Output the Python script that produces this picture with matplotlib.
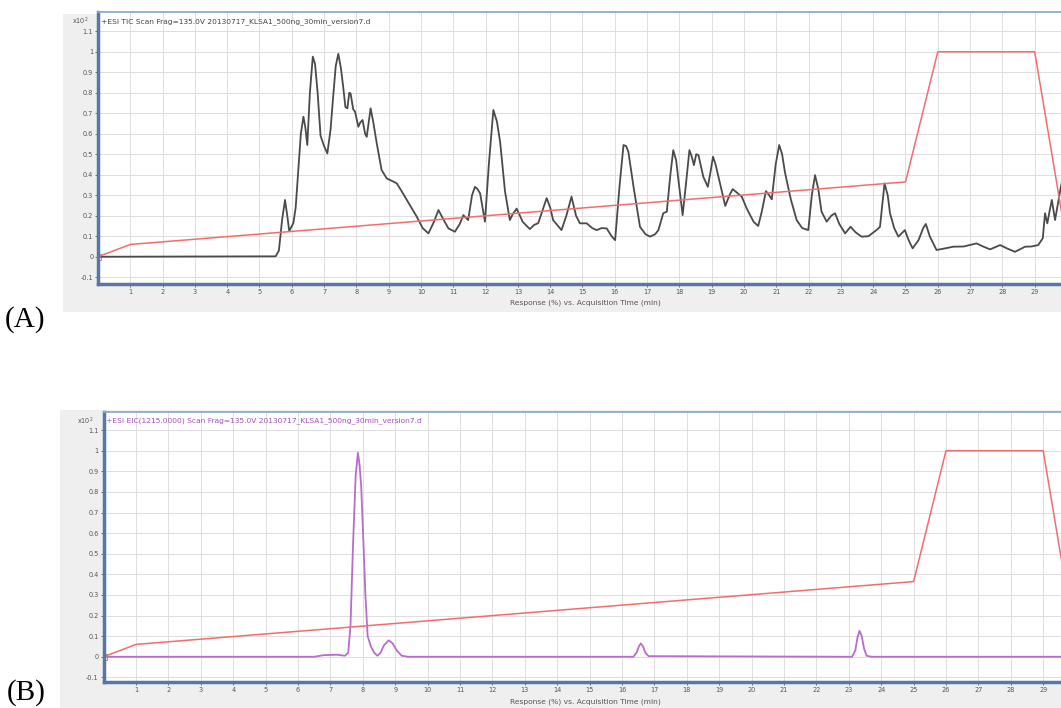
import matplotlib
matplotlib.use("Agg")
import matplotlib.pyplot as plt
from matplotlib.patches import Rectangle

# gradient (%B) trace, same in both panels
grad_t = [0, 1, 25, 26, 29, 30]
grad_v = [0, 0.06, 0.365, 1.0, 1.0, 0.06]

# TIC trace (A)
tic_t = [0, 5.5, 5.6, 5.7, 5.79, 5.86, 5.92, 6.0, 6.05, 6.12, 6.2, 6.28, 6.36, 6.42, 6.48,
         6.56, 6.65, 6.72, 6.8, 6.89, 7.0, 7.1, 7.2, 7.28, 7.36, 7.44, 7.52, 7.59, 7.66,
         7.72, 7.78, 7.82, 7.9, 7.96, 8.06, 8.12, 8.19, 8.27, 8.32, 8.44, 8.53, 8.63, 8.78,
         8.94, 9.1, 9.25, 9.4, 9.56, 9.7, 9.87, 10.05, 10.23, 10.4, 10.54, 10.7, 10.85,
         11.05, 11.2, 11.31, 11.46, 11.58, 11.67, 11.75, 11.83, 11.98, 12.1, 12.24, 12.35,
         12.45, 12.6, 12.75, 12.85, 12.96, 13.15, 13.37, 13.5, 13.63, 13.75, 13.89, 14.0,
         14.09, 14.35, 14.5, 14.66, 14.8, 14.92, 15.13, 15.3, 15.44, 15.6, 15.75, 15.9,
         16.01, 16.15, 16.27, 16.35, 16.42, 16.58, 16.78, 16.95, 17.09, 17.25, 17.35, 17.5,
         17.61, 17.72, 17.81, 17.9, 17.97, 18.1, 18.2, 18.31, 18.38, 18.45, 18.52, 18.59,
         18.74, 18.88, 18.97, 19.04, 19.12, 19.21, 19.42, 19.55, 19.65, 19.8, 19.93, 20.1,
         20.3, 20.44, 20.55, 20.68, 20.78, 20.86, 20.98, 21.09, 21.18, 21.27, 21.45, 21.63,
         21.8, 21.99, 22.1, 22.2, 22.3, 22.4, 22.56, 22.7, 22.82, 22.95, 23.13, 23.3, 23.45,
         23.64, 23.85, 24.1, 24.21, 24.35, 24.45, 24.52, 24.65, 24.78, 24.98, 25.1, 25.22,
         25.4, 25.55, 25.63, 25.75, 25.96, 26.2, 26.48, 26.8, 27.2, 27.4, 27.62, 27.93,
         28.15, 28.39, 28.7, 28.9, 29.11, 29.25, 29.32, 29.39, 29.47, 29.53, 29.63, 29.72,
         29.81, 29.9]
tic_v = [0, 0.002, 0.03, 0.18, 0.277, 0.2, 0.125, 0.15, 0.165, 0.24, 0.42, 0.6, 0.683, 0.63, 0.545,
         0.8, 0.976, 0.94, 0.8, 0.59, 0.54, 0.504, 0.62, 0.78, 0.93, 0.99, 0.92, 0.83, 0.73,
         0.724, 0.8, 0.797, 0.72, 0.707, 0.634, 0.655, 0.667, 0.6, 0.585, 0.724, 0.65, 0.553, 0.423,
         0.382, 0.37, 0.358, 0.32, 0.277, 0.24, 0.195, 0.14, 0.114, 0.17, 0.228, 0.18, 0.138,
         0.122, 0.16, 0.203, 0.179, 0.3, 0.341, 0.33, 0.309, 0.171, 0.45, 0.716, 0.66,
         0.56, 0.32, 0.179, 0.21, 0.235, 0.17, 0.135, 0.155, 0.164, 0.22, 0.286, 0.24,
         0.179, 0.13, 0.2, 0.293, 0.2, 0.163, 0.163, 0.14, 0.13, 0.14, 0.138, 0.1,
         0.081, 0.35, 0.545, 0.54, 0.512, 0.341, 0.146, 0.11, 0.098, 0.11, 0.13, 0.212,
         0.22, 0.4, 0.52, 0.47, 0.374, 0.203, 0.35, 0.52, 0.49, 0.447, 0.5, 0.496,
         0.39, 0.341, 0.42, 0.488, 0.45, 0.39, 0.248, 0.3, 0.33, 0.31, 0.293, 0.23,
         0.17, 0.15, 0.22, 0.32, 0.3, 0.28, 0.45, 0.545, 0.5, 0.41, 0.28, 0.179,
         0.14, 0.13, 0.3, 0.398, 0.33, 0.22, 0.171, 0.2, 0.212, 0.16, 0.114, 0.146, 0.12,
         0.098, 0.1, 0.13, 0.146, 0.358, 0.3, 0.212, 0.14, 0.098, 0.13, 0.08, 0.041,
         0.08, 0.14, 0.16, 0.1, 0.033, 0.04, 0.049, 0.05, 0.065, 0.05, 0.036, 0.057,
         0.04, 0.024, 0.049, 0.05, 0.057, 0.09, 0.212, 0.163, 0.23, 0.277, 0.179, 0.26,
         0.341, 0.4]

# EIC trace (B)
eic_t = [0, 6.5, 6.8, 7.2, 7.45, 7.55, 7.62, 7.7, 7.78, 7.85, 7.9, 7.95, 8.02, 8.08, 8.15,
         8.25, 8.35, 8.45, 8.55, 8.65, 8.8, 8.92, 9.05, 9.2, 9.4, 16.35, 16.45, 16.52, 16.58,
         16.65, 16.72, 16.82, 23.1, 23.2, 23.27, 23.33, 23.4, 23.47, 23.55, 23.7, 31]
eic_v = [0, 0, 0.008, 0.01, 0.005, 0.02, 0.15, 0.55, 0.88, 0.99, 0.93, 0.83, 0.55, 0.3, 0.1,
         0.05, 0.02, 0.005, 0.02, 0.055, 0.08, 0.065, 0.03, 0.005, 0, 0, 0.02, 0.05, 0.065,
         0.05, 0.02, 0.003, 0, 0.03, 0.095, 0.126, 0.1, 0.04, 0.005, 0, 0]

x_ticks = list(range(1, 30))
y_ticks = [-0.1, 0, 0.1, 0.2, 0.3, 0.4, 0.5, 0.6, 0.7, 0.8, 0.9, 1.0, 1.1]
y_labels = ["-0.1", "0", "0.1", "0.2", "0.3", "0.4", "0.5", "0.6", "0.7", "0.8", "0.9", "1", "1.1"]

title_a = "+ESI TIC Scan Frag=135.0V 20130717_KLSA1_500ng_30min_version7.d"
title_b = "+ESI EIC(1215.0000) Scan Frag=135.0V 20130717_KLSA1_500ng_30min_version7.d"
xlabel = "Response (%) vs. Acquisition Time (min)"

W, H = 1061, 708
fig = plt.figure(figsize=(W / 100, H / 100), dpi=100)

# gray chart backgrounds
fig.add_artist(Rectangle((63 / W, 1 - 312 / H), 1, 298 / H, transform=fig.transFigure,
                         facecolor="#efefef", edgecolor="none", zorder=0))
fig.add_artist(Rectangle((60 / W, 0), 1, 298 / H, transform=fig.transFigure,
                         facecolor="#efefef", edgecolor="none", zorder=0))


def style(ax, title, tcolor):
    ax.set_facecolor("white")
    ax.set_xlim(0, 31)
    ax.set_xticks(x_ticks)
    ax.set_xticklabels([str(i) for i in x_ticks])
    ax.set_yticks(y_ticks)
    ax.set_yticklabels(y_labels)
    ax.tick_params(labelsize=4.7, length=2, width=0.6, colors="#555555", pad=1.5)
    ax.grid(True, color="#dedede", lw=0.7)
    ax.set_axisbelow(True)
    for s in ["left", "bottom"]:
        ax.spines[s].set_color("#5878a4")
        ax.spines[s].set_linewidth(2.5)
    ax.spines["top"].set_color("#8aaad3")
    ax.spines["top"].set_linewidth(1.3)
    ax.spines["right"].set_visible(False)
    ax.text(0.08, 1.145, title, fontsize=5.4, color=tcolor, va="center")
    ax.plot([0], [0], marker="s", ms=4, mfc="none", mec="#888888", mew=0.6)


axA = fig.add_axes([98 / W, 1 - 284 / H, 31 * 32.3 / W, 272 / H])
axA.set_ylim(-0.133, 1.194)
style(axA, title_a, "#444444")
axA.plot(tic_t, tic_v, color="#4a4a4a", lw=1.3)
axA.plot(grad_t, grad_v, color="#f26d6d", lw=1.1)

axB = fig.add_axes([103.6 / W, 1 - 681.7 / H, 31 * 32.4 / W, 269.7 / H])
axB.set_ylim(-0.121, 1.188)
style(axB, title_b, "#a050c0")
axB.plot(eic_t, eic_v, color="#b86ccc", lw=1.3)
axB.plot(grad_t, grad_v, color="#f26d6d", lw=1.1)

fig.text(72 / W, 1 - 21 / H, r"x10$^{2}$", fontsize=4.7, color="#555555", va="center")
fig.text(77 / W, 1 - 421 / H, r"x10$^{2}$", fontsize=4.7, color="#555555", va="center")
fig.text(585 / W, 1 - 303 / H, xlabel, fontsize=5.4, color="#555555", ha="center", va="center")
fig.text(585 / W, 1 - 702 / H, xlabel, fontsize=5.4, color="#555555", ha="center", va="center")

fig.text(5 / W, 1 - 320 / H, "(A)", fontsize=21, family="Liberation Serif", va="center")
fig.text(7 / W, 1 - 693 / H, "(B)", fontsize=21, family="Liberation Serif", va="center")

fig.savefig("out.png", dpi=100)
